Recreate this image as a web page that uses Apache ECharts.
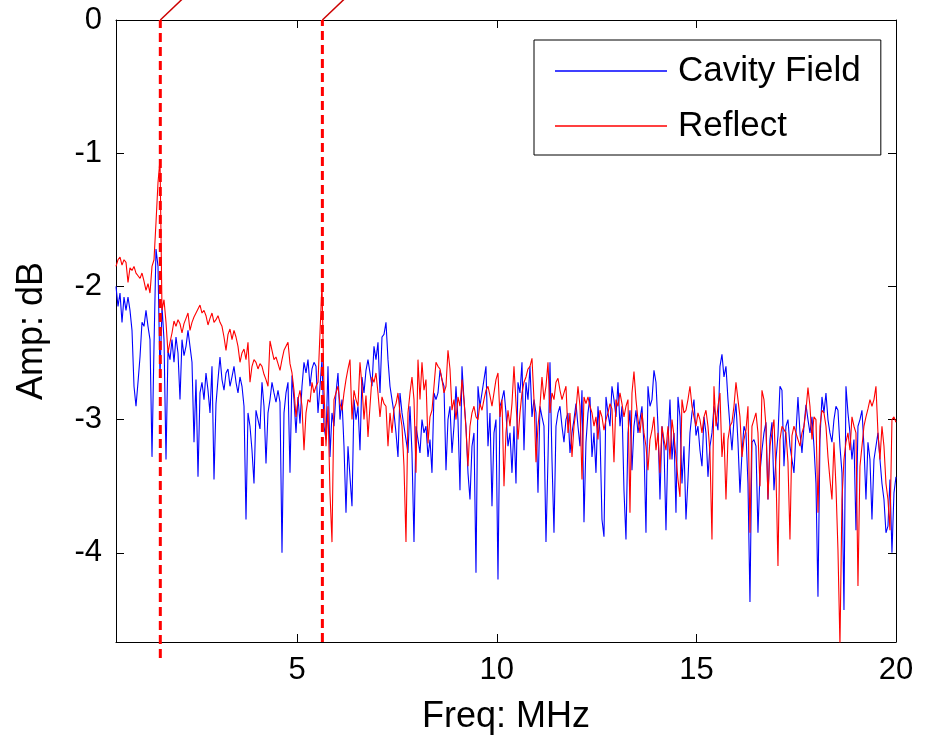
<!DOCTYPE html>
<html>
<head>
<meta charset="utf-8">
<script src="https://cdn.jsdelivr.net/npm/echarts@6/dist/echarts.min.js"></script>
<style>
html,body{margin:0;padding:0;background:#fff;}
#chart{width:930px;height:740px;}
</style>
</head>
<body>
<div id="chart"></div>
<script>
// ---- data ----
var freqStart = 0.46;      // MHz, first sample
var freqStep = 0.0501;     // MHz, sample spacing
var xTicks = [5, 10, 15, 20];
var yTicks = [0, -1, -2, -3, -4];
var markerFreqs = [1.57, 5.63];
var seriesNames = ['Cavity Field', 'Reflect'];

var cavityField = [
-2.00,-2.15,-2.05,-2.27,-2.08,-2.18,-2.08,-2.18,-2.33,-2.75,
-2.90,-2.72,-2.53,-2.27,-2.30,-2.18,-2.30,-2.40,-3.28,-2.45,
-1.72,-1.85,-2.68,-2.15,-2.40,-3.30,-2.48,-2.55,-2.40,-2.57,
-2.38,-2.50,-2.85,-2.40,-2.52,-2.45,-2.33,-2.45,-2.57,-3.17,
-2.70,-3.43,-2.80,-2.72,-2.85,-2.65,-2.78,-2.95,-2.60,-3.45,
-2.88,-2.70,-2.53,-2.70,-2.78,-2.65,-2.62,-2.75,-2.68,-2.60,
-2.72,-2.80,-2.68,-2.75,-2.90,-3.75,-2.95,-3.05,-3.23,-3.48,
-2.93,-3.00,-3.07,-2.72,-2.90,-3.33,-2.95,-2.85,-2.72,-2.80,
-2.87,-2.78,-2.87,-4.00,-2.95,-2.80,-2.72,-3.40,-2.67,-2.85,
-3.10,-2.83,-3.03,-2.75,-2.57,-2.65,-2.55,-2.75,-2.62,-2.57,
-2.60,-2.95,-2.75,-2.55,-3.05,-3.15,-2.60,-3.28,-2.95,-3.05,
-2.80,-2.65,-3.00,-2.85,-3.20,-3.70,-3.20,-3.43,-3.65,-2.85,
-3.00,-2.90,-3.23,-2.68,-2.80,-2.63,-2.55,-2.65,-2.75,-2.45,
-2.55,-2.42,-2.80,-2.38,-2.36,-2.27,-2.55,-2.75,-2.85,-2.95,
-3.10,-3.28,-2.80,-2.95,-3.05,-3.15,-3.25,-2.90,-3.25,-3.92,
-3.05,-3.15,-3.25,-3.00,-3.10,-3.05,-3.28,-3.15,-3.40,-2.80,
-2.85,-2.80,-2.63,-2.70,-2.75,-3.38,-3.00,-2.90,-3.25,-3.05,
-2.75,-3.00,-3.53,-2.60,-2.85,-3.05,-3.40,-3.60,-3.20,-3.10,
-4.15,-2.75,-2.90,-2.80,-2.70,-2.60,-3.20,-2.95,-3.65,-3.10,
-3.00,-4.20,-2.90,-2.85,-2.78,-2.95,-3.20,-3.10,-3.40,-3.05,
-3.48,-2.72,-2.80,-2.57,-3.23,-2.72,-2.85,-2.60,-2.98,-2.85,
-2.95,-3.55,-2.90,-2.98,-3.05,-3.92,-3.30,-2.57,-3.30,-3.85,
-3.05,-2.95,-2.90,-3.05,-3.17,-3.00,-2.95,-3.25,-3.10,-3.00,
-2.88,-3.05,-3.20,-2.78,-3.77,-3.17,-2.95,-2.83,-3.28,-3.10,
-3.40,-2.90,-3.10,-3.75,-3.88,-2.83,-2.95,-3.05,-2.75,-2.85,
-2.98,-2.72,-3.05,-2.90,-3.53,-3.90,-3.10,-2.93,-3.38,-3.05,
-2.93,-3.10,-3.00,-2.90,-3.20,-3.85,-2.75,-2.90,-2.85,-2.63,
-2.72,-3.05,-3.60,-3.05,-3.20,-3.83,-3.17,-2.85,-3.30,-3.10,
-3.70,-2.83,-2.98,-3.48,-3.20,-3.75,-3.45,-3.10,-2.95,-2.85,
-3.12,-3.05,-3.23,-3.35,-2.98,-3.10,-3.43,-3.20,-3.10,-2.90,
-2.90,-3.08,-2.60,-2.51,-2.68,-2.60,-2.85,-3.05,-3.23,-3.00,
-2.88,-3.17,-3.55,-3.25,-3.05,-3.10,-3.48,-4.37,-3.17,-3.15,
-3.20,-3.85,-3.40,-3.23,-3.10,-3.02,-3.60,-3.15,-3.02,-3.53,
-3.30,-3.12,-2.75,-2.78,-3.35,-3.05,-3.00,-3.20,-3.30,-3.40,
-3.10,-2.83,-3.10,-3.25,-3.05,-2.89,-3.00,-3.10,-2.98,-3.20,
-3.48,-4.33,-3.15,-2.83,-2.95,-2.80,-3.00,-3.10,-3.17,-3.00,
-2.90,-2.93,-3.20,-3.40,-4.43,-2.75,-2.95,-3.10,-3.30,-3.15,
-3.83,-3.05,-3.00,-2.93,-3.20,-3.60,-3.17,-3.30,-3.75,-3.30,
-3.20,-3.10,-3.30,-3.48,-3.60,-3.85,-3.80,-3.45,-4.00,-3.55,
-3.43
];

var reflect = [
-1.85,-1.80,-1.78,-1.84,-1.80,-1.82,-1.97,-1.86,-1.88,-1.85,
-1.90,-1.92,-1.94,-1.90,-1.96,-2.03,-1.98,-2.05,-1.85,-1.80,
-1.52,-1.22,-1.05,-2.18,-2.10,-2.27,-2.50,-2.42,-2.35,-2.26,
-2.30,-2.25,-2.28,-2.35,-2.28,-2.24,-2.20,-2.33,-2.27,-2.23,
-2.20,-2.17,-2.14,-2.20,-2.18,-2.22,-2.29,-2.24,-2.20,-2.27,
-2.25,-2.22,-2.27,-2.30,-2.38,-2.48,-2.36,-2.32,-2.40,-2.33,
-2.38,-2.45,-2.57,-2.50,-2.47,-2.55,-2.42,-2.72,-2.60,-2.55,
-2.57,-2.62,-2.58,-2.60,-2.66,-2.70,-2.75,-2.41,-2.48,-2.55,
-2.53,-2.58,-2.63,-2.55,-2.48,-2.45,-2.42,-2.58,-2.65,-2.78,
-2.98,-2.85,-2.78,-2.90,-3.23,-2.95,-2.85,-2.87,-2.72,-2.80,
-2.75,-2.72,-2.35,-1.98,-2.78,-3.20,-2.90,-3.55,-3.92,-2.85,
-2.80,-2.75,-2.88,-2.93,-2.80,-2.70,-2.62,-2.55,-3.00,-2.78,
-2.85,-2.90,-2.57,-2.75,-3.00,-2.82,-3.13,-2.90,-2.68,-2.72,
-2.65,-2.80,-2.98,-2.83,-2.88,-2.90,-3.20,-2.95,-3.10,-2.92,
-2.88,-2.80,-2.95,-3.05,-3.35,-3.92,-2.95,-2.80,-2.68,-2.85,
-3.40,-2.55,-2.85,-2.57,-2.78,-2.70,-3.18,-2.98,-2.93,-2.75,
-2.57,-2.60,-2.62,-2.70,-2.80,-2.75,-2.48,-2.62,-2.93,-2.85,
-3.00,-2.83,-2.90,-2.70,-2.85,-3.07,-3.35,-3.05,-2.95,-2.90,
-2.98,-3.00,-2.88,-2.93,-2.85,-2.78,-2.75,-2.82,-2.90,-2.80,
-2.70,-2.65,-2.98,-2.85,-3.50,-3.10,-2.93,-3.05,-2.88,-2.60,
-2.60,-3.15,-2.95,-2.80,-2.72,-2.68,-2.62,-2.60,-2.54,-2.85,
-3.32,-3.05,-2.90,-2.68,-2.85,-2.75,-2.57,-2.95,-2.80,-2.85,
-2.72,-2.69,-2.78,-2.85,-2.80,-2.75,-3.10,-2.95,-3.28,-3.05,
-2.93,-2.75,-2.90,-3.45,-2.83,-2.88,-2.83,-2.90,-2.95,-3.05,
-2.98,-3.15,-2.93,-2.98,-3.08,-3.00,-2.95,-2.88,-2.92,-3.32,
-2.85,-2.90,-2.80,-2.88,-2.98,-2.90,-2.85,-3.70,-2.80,-2.64,
-2.85,-3.00,-3.10,-2.95,-3.10,-3.20,-3.38,-3.15,-3.08,-2.98,
-3.23,-3.10,-3.40,-3.05,-3.15,-3.23,-3.05,-3.30,-3.00,-3.12,
-3.28,-3.45,-3.58,-2.85,-2.95,-2.93,-2.85,-2.75,-2.90,-2.98,
-3.05,-2.95,-3.00,-3.10,-2.98,-2.93,-3.05,-3.25,-3.90,-2.75,
-3.05,-2.90,-2.80,-3.28,-3.10,-3.60,-3.15,-3.05,-3.02,-2.90,
-2.72,-2.85,-2.98,-3.28,-3.15,-3.08,-2.90,-3.85,-3.05,-3.00,
-2.95,-3.10,-3.50,-2.78,-2.85,-3.05,-3.60,-3.20,-3.10,-3.00,
-3.40,-4.10,-3.15,-3.05,-3.05,-3.10,-3.32,-3.90,-3.12,-3.05,
-3.10,-3.15,-3.20,-3.10,-3.05,-2.93,-2.76,-2.90,-3.15,-2.98,
-3.00,-3.70,-3.05,-2.93,-2.95,-3.05,-3.28,-3.45,-3.60,-3.17,
-3.50,-3.98,-4.70,-3.60,-3.30,-3.17,-3.10,-3.23,-2.98,-3.05,
-3.10,-4.25,-3.35,-3.20,-3.05,-2.98,-2.92,-2.85,-2.90,-2.85,
-2.75,-3.10,-3.30,-3.05,-3.20,-3.48,-3.60,-3.83,-3.00,-2.98,
-3.02
];

// ---- build ----
var X_MIN = 0.46, X_MAX = 20, Y_MIN = -4.67, Y_MAX = 0;
var FONT = '"Liberation Sans", Arial, Helvetica, sans-serif';
var FS_TICK = 31, FS_NAME = 36, FS_LEGEND = 35;

function pairs(vals) {
  var out = [];
  for (var i = 0; i < vals.length; i++) out.push([freqStart + i * freqStep, vals[i]]);
  return out;
}

var markerSeries = [];
markerFreqs.forEach(function (f, k) {
  markerSeries.push({
    type: 'line', silent: true, clip: false, symbol: 'none', animation: false, z: 5,
    data: [[f, k === 0 ? -4.79 : Y_MIN], [f, Y_MAX]],
    lineStyle: { color: '#ff0000', width: 3, type: [9, 5] }
  });
  markerSeries.push({
    type: 'line', silent: true, clip: false, symbol: 'none', animation: false, z: 5,
    data: [[f, Y_MAX], [f + 0.7, 0.2]],
    lineStyle: { color: '#cc0000', width: 1.5 }
  });
});

var axisLineStyle = { color: '#000', width: 1 };

var option = {
  animation: false,
  backgroundColor: '#fff',
  grid: { left: 116, right: 34, top: 20, bottom: 97, containLabel: false },
  legend: {
    data: [
      { name: seriesNames[0], icon: 'rect' },
      { name: seriesNames[1], icon: 'rect' }
    ],
    orient: 'vertical',
    left: 534, top: 40,
    padding: [13, 20, 11, 21],
    itemWidth: 112, itemHeight: 1.5, itemGap: 19,
    backgroundColor: '#fff', borderColor: '#000', borderWidth: 1, borderRadius: 0,
    textStyle: { fontFamily: FONT, fontSize: FS_LEGEND, color: '#000', lineHeight: 36, padding: [0, 0, 0, 6] }
  },
  xAxis: [{
    type: 'value', min: X_MIN, max: X_MAX, position: 'bottom',
    axisLine: { show: true, onZero: false, lineStyle: axisLineStyle },
    axisTick: { show: true, inside: true, length: 8, customValues: xTicks, lineStyle: axisLineStyle },
    axisLabel: { show: true, customValues: xTicks, fontFamily: FONT, fontSize: FS_TICK, color: '#000', margin: 13 },
    splitLine: { show: false },
    name: 'Freq: MHz', nameLocation: 'middle', nameGap: 57,
    nameTextStyle: { fontFamily: FONT, fontSize: FS_NAME, color: '#000' }
  }, {
    type: 'value', min: X_MIN, max: X_MAX, position: 'top',
    axisLine: { show: true, onZero: false, lineStyle: axisLineStyle },
    axisTick: { show: true, inside: true, length: 8, customValues: xTicks, lineStyle: axisLineStyle },
    axisLabel: { show: false },
    splitLine: { show: false }
  }],
  yAxis: [{
    type: 'value', min: Y_MIN, max: Y_MAX, position: 'left',
    axisLine: { show: true, onZero: false, lineStyle: axisLineStyle },
    axisTick: { show: true, inside: true, length: 8, customValues: yTicks, lineStyle: axisLineStyle },
    axisLabel: { show: true, customValues: yTicks, fontFamily: FONT, fontSize: FS_TICK, color: '#000', margin: 14 },
    splitLine: { show: false },
    name: 'Amp: dB', nameLocation: 'middle', nameGap: 66, nameRotate: 90,
    nameTextStyle: { fontFamily: FONT, fontSize: FS_NAME, color: '#000' }
  }, {
    type: 'value', min: Y_MIN, max: Y_MAX, position: 'right',
    axisLine: { show: true, onZero: false, lineStyle: axisLineStyle },
    axisTick: { show: true, inside: true, length: 8, customValues: yTicks, lineStyle: axisLineStyle },
    axisLabel: { show: false },
    splitLine: { show: false }
  }],
  series: [{
    name: seriesNames[0], type: 'line', symbol: 'none', showSymbol: false,
    data: pairs(cavityField), color: '#0000ff',
    lineStyle: { color: '#0000ff', width: 1.1 }, z: 2
  }, {
    name: seriesNames[1], type: 'line', symbol: 'none', showSymbol: false,
    data: pairs(reflect), color: '#ff0000',
    lineStyle: { color: '#ff0000', width: 1.1 }, z: 3
  }].concat(markerSeries)
};

var chart = echarts.init(document.getElementById('chart'), null, { renderer: 'canvas' });
chart.setOption(option);
</script>
</body>
</html>
